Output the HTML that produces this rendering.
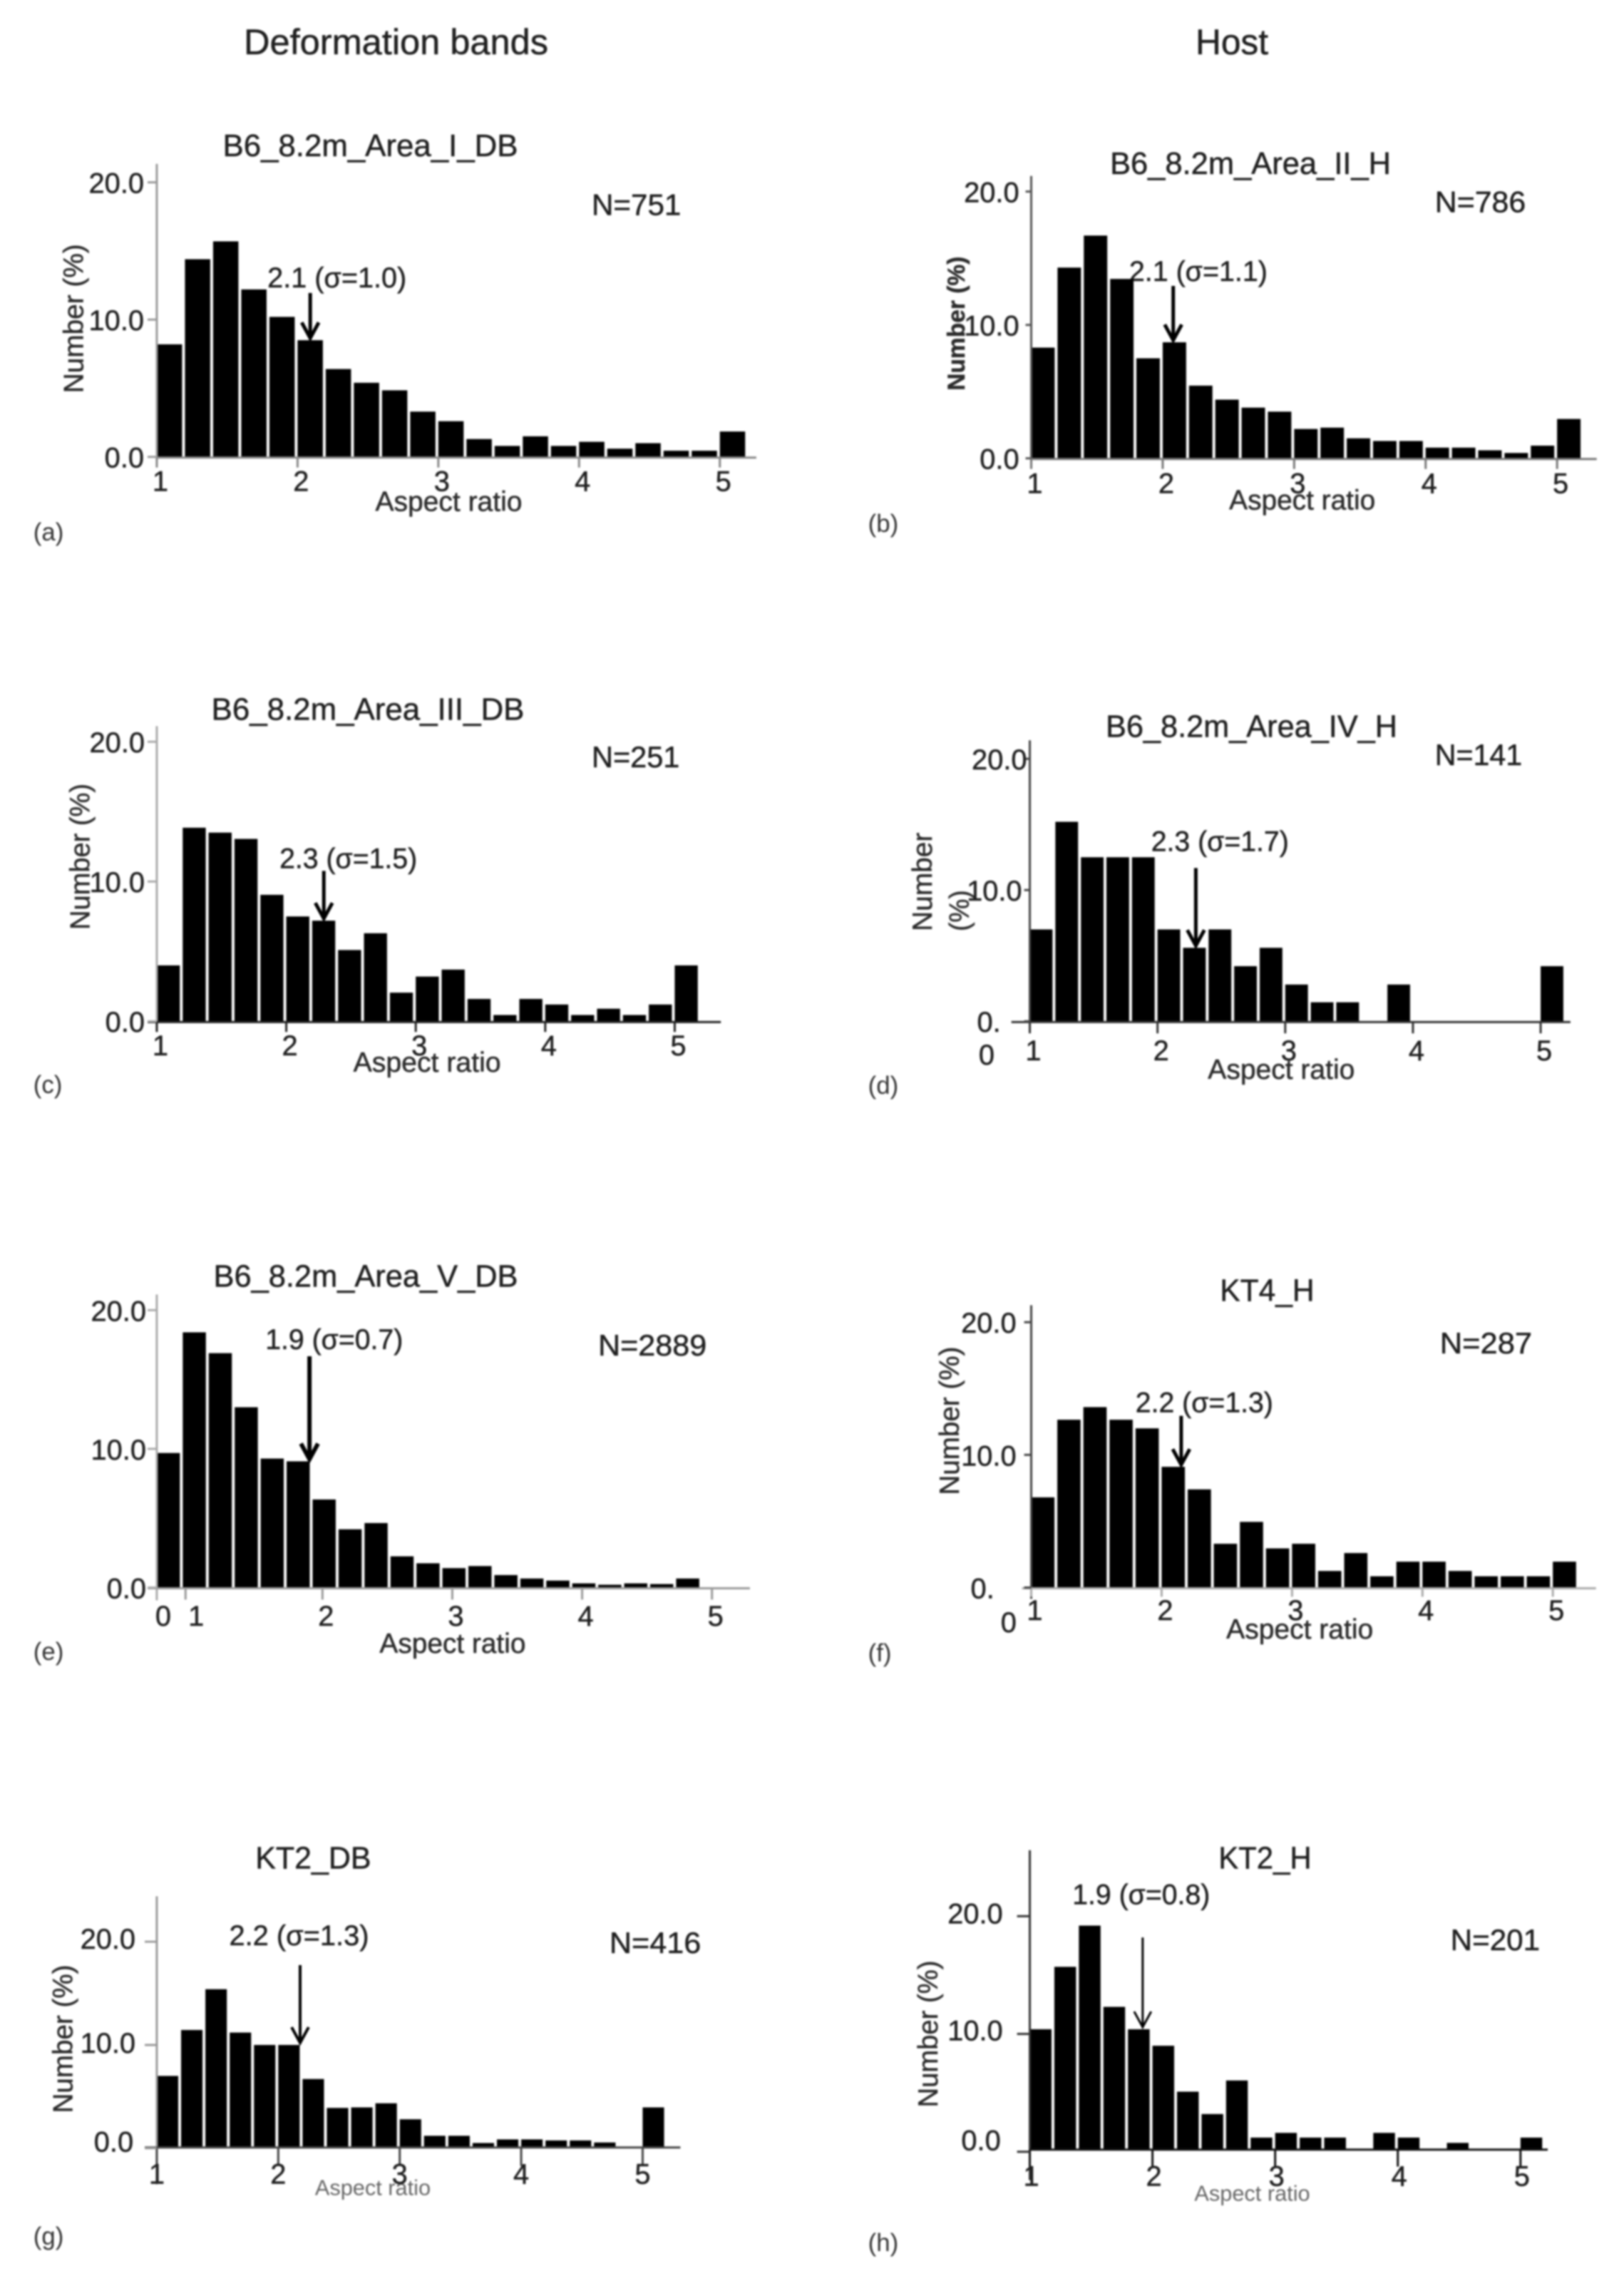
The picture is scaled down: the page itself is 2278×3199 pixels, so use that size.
<!DOCTYPE html>
<html lang="en">
<head>
<meta charset="utf-8">
<title>Aspect ratio histograms: deformation bands and host</title>
<style>
html,body{margin:0;padding:0;background:#fff;}
svg{display:block;filter:blur(1.3px);}
text{font-family:"Liberation Sans",sans-serif;fill:#1f1f1f;stroke:#1f1f1f;stroke-width:0.5px;}
.head{font-size:50px;}
.title{font-size:44px;}
.n{font-size:42px;}
.ann{font-size:40px;}
.tick{font-size:40px;}
.axt{font-size:39px;fill:#2b2b2b;stroke:#2b2b2b;}
.small{font-size:31px;fill:#666;stroke:none;}
.tag{font-size:35px;fill:#333;stroke:none;}
</style>
</head>
<body>
<svg id="figure" xmlns="http://www.w3.org/2000/svg" width="2278" height="3199" viewBox="0 0 2278 3199">
<rect x="0" y="0" width="2278" height="3199" fill="#ffffff"/>
<text class="head" x="342" y="76" textLength="427" lengthAdjust="spacingAndGlyphs">Deformation bands</text>
<text class="head" x="1677" y="76" textLength="102" lengthAdjust="spacingAndGlyphs">Host</text>

<g id="panel-a" transform="scale(0.9952 0.995)">
<text class="title" x="314" y="220" textLength="416" lengthAdjust="spacingAndGlyphs">B6_8.2m_Area_I_DB</text>
<text class="n" x="834" y="303" textLength="126" lengthAdjust="spacingAndGlyphs">N=751</text>
<text class="ann" x="377" y="405" textLength="196" lengthAdjust="spacingAndGlyphs">2.1 (σ=1.0)</text>
<text class="axt" x="529" y="720" textLength="207" lengthAdjust="spacingAndGlyphs">Aspect ratio</text>
<text class="axt" transform="translate(117 449) rotate(-90)" text-anchor="middle" textLength="210" lengthAdjust="spacingAndGlyphs">Number (%)</text>
<text class="tag" x="47" y="762">(a)</text>
</g>

<g id="panel-b" transform="translate(1139 0) scale(0.9952 0.995) translate(-1139 0)">
<text class="title" x="1559" y="245" textLength="396" lengthAdjust="spacingAndGlyphs">B6_8.2m_Area_II_H</text>
<text class="n" x="2017" y="299" textLength="128" lengthAdjust="spacingAndGlyphs">N=786</text>
<text class="ann" x="1586" y="396" textLength="195" lengthAdjust="spacingAndGlyphs">2.1 (σ=1.1)</text>
<text class="axt" x="1727" y="718" textLength="206" lengthAdjust="spacingAndGlyphs">Aspect ratio</text>
<text class="axt" font-weight="bold" transform="translate(1354 456) rotate(-90)" text-anchor="middle" textLength="189" lengthAdjust="spacingAndGlyphs" style="font-size:34px">Number (%)</text>
<text class="tag" x="1218" y="750">(b)</text>
</g>

<g id="panel-c" transform="translate(0 900) scale(0.9952 0.995) translate(0 -900)">
<text class="title" x="298" y="1010" textLength="441" lengthAdjust="spacingAndGlyphs">B6_8.2m_Area_III_DB</text>
<text class="n" x="834" y="1077" textLength="124" lengthAdjust="spacingAndGlyphs">N=251</text>
<text class="ann" x="394" y="1219" textLength="194" lengthAdjust="spacingAndGlyphs">2.3 (σ=1.5)</text>
<text class="axt" x="498" y="1506" textLength="208" lengthAdjust="spacingAndGlyphs">Aspect ratio</text>
<text class="axt" transform="translate(126 1203) rotate(-90)" text-anchor="middle" textLength="206" lengthAdjust="spacingAndGlyphs">Number (%)</text>
<text class="tag" x="47" y="1536">(c)</text>
</g>

<g id="panel-d" transform="translate(1139 900) scale(0.9952 0.995) translate(-1139 -900)">
<text class="title" x="1553" y="1034" textLength="411" lengthAdjust="spacingAndGlyphs">B6_8.2m_Area_IV_H</text>
<text class="n" x="2017" y="1074" textLength="123" lengthAdjust="spacingAndGlyphs">N=141</text>
<text class="ann" x="1617" y="1195" textLength="194" lengthAdjust="spacingAndGlyphs">2.3 (σ=1.7)</text>
<text class="axt" x="1697" y="1516" textLength="207" lengthAdjust="spacingAndGlyphs">Aspect ratio</text>
<text class="axt" transform="translate(1308 1308) rotate(-90)" textLength="139" lengthAdjust="spacingAndGlyphs">Number</text>
<text class="axt" transform="translate(1360 1308) rotate(-90)" textLength="58" lengthAdjust="spacingAndGlyphs">(%)</text>
<text class="tick" x="1374" y="1496">0</text>
<text class="tag" x="1218" y="1537">(d)</text>
</g>

<g id="panel-e" transform="translate(0 1720) scale(0.9952 0.995) translate(0 -1720)">
<text class="title" x="301" y="1805" textLength="429" lengthAdjust="spacingAndGlyphs">B6_8.2m_Area_V_DB</text>
<text class="n" x="843" y="1902" textLength="153" lengthAdjust="spacingAndGlyphs">N=2889</text>
<text class="ann" x="374" y="1893" textLength="194" lengthAdjust="spacingAndGlyphs">1.9 (σ=0.7)</text>
<text class="axt" x="535" y="2321" textLength="206" lengthAdjust="spacingAndGlyphs">Aspect ratio</text>
<text class="tick" x="230" y="2283" text-anchor="middle">0</text>
<text class="tag" x="47" y="2331">(e)</text>
</g>

<g id="panel-f" transform="translate(1139 1720) scale(0.9952 0.995) translate(-1139 -1720)">
<text class="title" x="1714" y="1825" textLength="133" lengthAdjust="spacingAndGlyphs">KT4_H</text>
<text class="n" x="2024" y="1899" textLength="130" lengthAdjust="spacingAndGlyphs">N=287</text>
<text class="ann" x="1595" y="1982" textLength="194" lengthAdjust="spacingAndGlyphs">2.2 (σ=1.3)</text>
<text class="axt" x="1723" y="2301" textLength="207" lengthAdjust="spacingAndGlyphs">Aspect ratio</text>
<text class="axt" transform="translate(1346 1994) rotate(-90)" text-anchor="middle" textLength="209" lengthAdjust="spacingAndGlyphs">Number (%)</text>
<text class="tick" x="1405" y="2292">0</text>
<text class="tag" x="1218" y="2333">(f)</text>
</g>

<g id="panel-g" transform="translate(0 2560) scale(0.9952 0.995) translate(0 -2560)">
<text class="title" x="360" y="2621" textLength="163" lengthAdjust="spacingAndGlyphs">KT2_DB</text>
<text class="n" x="859" y="2740" textLength="129" lengthAdjust="spacingAndGlyphs">N=416</text>
<text class="ann" x="323" y="2729" textLength="197" lengthAdjust="spacingAndGlyphs">2.2 (σ=1.3)</text>
<text class="small" x="444" y="3081" textLength="163" lengthAdjust="spacingAndGlyphs">Aspect ratio</text>
<text class="axt" transform="translate(102 2861) rotate(-90)" text-anchor="middle" textLength="209" lengthAdjust="spacingAndGlyphs">Number (%)</text>
<text class="tag" x="47" y="3151">(g)</text>
</g>

<g id="panel-h" transform="translate(1139 2560) scale(0.9952 0.995) translate(-1139 -2560)">
<text class="title" x="1712" y="2621" textLength="131" lengthAdjust="spacingAndGlyphs">KT2_H</text>
<text class="n" x="2039" y="2736" textLength="126" lengthAdjust="spacingAndGlyphs">N=201</text>
<text class="ann" x="1506" y="2671" textLength="194" lengthAdjust="spacingAndGlyphs">1.9 (σ=0.8)</text>
<text class="small" x="1678" y="3089" textLength="163" lengthAdjust="spacingAndGlyphs">Aspect ratio</text>
<text class="axt" transform="translate(1316 2854) rotate(-90)" text-anchor="middle" textLength="207" lengthAdjust="spacingAndGlyphs">Number (%)</text>
<text class="tag" x="1218" y="3160">(h)</text>
</g>
</svg>

<script>
// Bin percentages (21 bins, 0.2 wide).
var valuesA = [8.2,14.4,15.7,12.2,10.2,8.5,6.4,5.4,4.85,3.3,2.6,1.3,0.8,1.5,0.8,1.1,0.6,1.0,0.45,0.45,1.85];
var valuesB = [8.3,14.3,16.7,13.45,7.5,8.7,5.45,4.4,3.8,3.5,2.2,2.3,1.5,1.3,1.3,0.8,0.8,0.6,0.4,0.95,2.95];
var valuesC = [4.0,13.85,13.5,13.05,9.05,7.5,7.2,5.1,6.3,2.05,3.2,3.7,1.6,0.45,1.6,1.2,0.45,0.9,0.45,1.2,4.0];
var valuesD = [7.0,15.2,12.5,12.5,12.5,7.0,5.6,7.0,4.2,5.6,2.8,1.45,1.45,0,2.8,0,0,0,0,0,4.2];
var valuesE = [9.7,18.4,16.9,13.0,9.3,9.1,6.35,4.2,4.65,2.25,1.75,1.4,1.55,0.9,0.65,0.5,0.3,0.2,0.3,0.25,0.65];
var valuesF = [6.8,12.65,13.6,12.65,12.0,9.1,7.4,3.3,4.95,2.95,3.3,1.25,2.6,0.85,1.95,1.95,1.25,0.85,0.85,0.85,1.95];
var valuesG = [7.0,11.45,15.4,11.2,10.0,10.0,6.7,3.9,3.95,4.35,2.8,1.2,1.2,0.5,0.85,0.85,0.75,0.75,0.55,0.1,3.95];
var valuesH = [10.4,15.7,19.2,12.3,10.4,9.0,5.1,3.2,6.05,1.2,1.6,1.2,1.2,0,1.6,1.2,0,0.75,0,0,1.2];

// Mean aspect ratio marked by each arrow.
var meanA = 2.09;
var meanB = 2.08;
var meanC = 2.29;
var meanD = 2.3;
var meanE = 1.9;
var meanF = 2.15;
var meanG = 2.18;
var meanH = 1.92;

// First bin edge and bin width.
var binStartDefault = 1.0;
var binStartE = 0.724;
var binWidth = 0.2;

// Tick values and labels.
var xTickValues = [1,2,3,4,5];
var xTickLabels = ["1","2","3","4","5"];
var yTickValues = [0,10,20];
var yTickLabels = ["0.0","10.0","20.0"];
var yTickLabelsWrapped = ["0.","10.0","20.0"];

// Plot geometry (separate from the data).
var panelLayouts = [
 {id:'panel-a',values:valuesA,mean:meanA,start:binStartDefault,yLabels:yTickLabels,x1:221,unit:198.4,y0:644,y20:257,axisY:645,axisTop:231,axisBottom:650,axisRight:1066,axisLeft:221,arrowTop:413,yAxisColor:'#999',xAxisColor:'#888',yTick:13,xTick:14,yRight:[203,203,203],labelDy:[15,15,15],xLabelY:692,xLabelOff:5,arrowW:5},
 {id:'panel-b',values:valuesB,mean:meanB,start:binStartDefault,yLabels:yTickLabels,x1:1448,unit:185.3,y0:646,y20:270,axisY:647,axisTop:248,axisBottom:660,axisRight:2245,axisLeft:1448,arrowTop:403,yAxisColor:'#555',xAxisColor:'#777',yTick:8,xTick:14,yRight:[1431,1431,1431],labelDy:[15,15,15],xLabelY:695,xLabelOff:5,arrowW:5},
 {id:'panel-c',values:valuesC,mean:meanC,start:binStartDefault,yLabels:yTickLabels,x1:221,unit:182.5,y0:1435,y20:1041,axisY:1436,axisTop:1019,axisBottom:1450,axisRight:1016,axisLeft:208,arrowTop:1223,yAxisColor:'#aaa',xAxisColor:'#222',yTick:13,xTick:14,yRight:[204,204,204],labelDy:[15,15,15],xLabelY:1483,xLabelOff:5,arrowW:5},
 {id:'panel-d',values:valuesD,mean:meanD,start:binStartDefault,yLabels:yTickLabelsWrapped,x1:1446,unit:180,y0:1435,y20:1065,axisY:1436,axisTop:1039,axisBottom:1450,axisRight:2208,axisLeft:1420,arrowTop:1219,yAxisColor:'#444',xAxisColor:'#333',yTick:8,xTick:16,yRight:[1405,1435,1442],labelDy:[15,15,15],xLabelY:1490,xLabelOff:5,arrowW:5},
 {id:'panel-e',values:valuesE,mean:meanE,start:binStartE,yLabels:yTickLabels,x1:271.5,unit:183,y0:2229,y20:1838,axisY:2230,axisTop:1816,axisBottom:2247,axisRight:1057,axisLeft:208,arrowTop:1903,yAxisColor:'#aaa',xAxisColor:'#999',yTick:13,xTick:16,yRight:[206,206,206],labelDy:[15,15,15],xLabelY:2283,xLabelOff:5,arrowW:6,firstTickNudge:-10},
 {id:'panel-f',values:valuesF,mean:meanF,start:binStartDefault,yLabels:yTickLabelsWrapped,x1:1448,unit:183.8,y0:2229,y20:1855,axisY:2230,axisTop:1831,axisBottom:2245,axisRight:2244,axisLeft:1435,arrowTop:1987,yAxisColor:'#444',xAxisColor:'#aaa',yTick:10,xTick:12,yRight:[1396,1427,1427],labelDy:[15,15,15],xLabelY:2275,xLabelOff:5,arrowW:5},
 {id:'panel-g',values:valuesG,mean:meanG,start:binStartDefault,yLabels:yTickLabels,x1:221,unit:171.2,y0:3015,y20:2724,axisY:3014,axisTop:2660,axisBottom:3066,axisRight:959,axisLeft:204,arrowTop:2757,yAxisColor:'#999',xAxisColor:'#444',yTick:17,xTick:26,yRight:[188,191,191],labelDy:[5,11,10],xLabelY:3065,xLabelOff:0,arrowW:4},
 {id:'panel-h',values:valuesH,mean:meanH,start:binStartDefault,yLabels:yTickLabels,x1:1446,unit:172.9,y0:3020,y20:2688,axisY:3017,axisTop:2595,axisBottom:3060,axisRight:2176,axisLeft:1446,arrowTop:2718,yAxisColor:'#333',xAxisColor:'#111',yTick:18,xTick:24,yRight:[1405,1408,1408],labelDy:[-2,9,10],xLabelY:3068,xLabelOff:2,arrowW:3}
];

var SVG_NS = 'http://www.w3.org/2000/svg';

function make(tag, attrs, parent) {
  var node = document.createElementNS(SVG_NS, tag);
  for (var key in attrs) { node.setAttribute(key, attrs[key]); }
  parent.appendChild(node);
  return node;
}

function xScaleFor(p) {
  return function (v) { return p.x1 + (v - 1) * p.unit; };
}

function yScaleFor(p) {
  var perUnit = (p.y0 - p.y20) / 20;
  return function (v) { return p.y0 - v * perUnit; };
}

function drawPanel(p) {
  var root = document.getElementById(p.id);
  var x = xScaleFor(p);
  var y = yScaleFor(p);
  var barGap = 4;
  var el, i;

  for (i = 0; i < p.values.length; i++) {
    if (p.values[i] <= 0) { continue; }
    var left = x(p.start + i * binWidth);
    var right = x(p.start + (i + 1) * binWidth);
    el = make('rect', {x: left, y: y(p.values[i]), width: right - left - barGap, height: p.axisY - y(p.values[i]), fill: '#000'}, root);
    
    
  }

  el = make('line', {x1: x(p.start), y1: p.axisTop, x2: x(p.start), y2: p.axisBottom, stroke: p.yAxisColor, 'stroke-width': 3}, root);
  
  

  el = make('line', {x1: p.axisLeft, y1: p.axisY, x2: p.axisRight, y2: p.axisY, stroke: p.xAxisColor, 'stroke-width': 3}, root);
  
  

  for (i = 0; i < xTickValues.length; i++) {
    var tickX = x(xTickValues[i]) + (i === 0 && p.firstTickNudge ? p.firstTickNudge : 0);
    el = make('line', {x1: tickX, y1: p.axisY, x2: tickX, y2: p.axisY + p.xTick, stroke: p.xAxisColor, 'stroke-width': 3}, root);
    
    

    el = make('text', {x: x(xTickValues[i]) + p.xLabelOff, y: p.xLabelY, 'class': 'tick', 'text-anchor': 'middle'}, root);
    
    
    el.textContent = xTickLabels[i];
  }

  for (i = 0; i < yTickValues.length; i++) {
    el = make('line', {x1: x(p.start) - p.yTick, y1: y(yTickValues[i]), x2: x(p.start), y2: y(yTickValues[i]), stroke: p.yAxisColor, 'stroke-width': 3}, root);
    
    

    el = make('text', {x: p.yRight[i], y: y(yTickValues[i]) + p.labelDy[i], 'class': 'tick', 'text-anchor': 'end'}, root);
    
    
    el.textContent = p.yLabels[i];
  }

  var bin = Math.floor((p.mean - p.start) / binWidth);
  var tipY = y(p.values[bin]);
  var tipX = x(p.mean);

  el = make('line', {x1: tipX, y1: p.arrowTop, x2: tipX, y2: tipY - 2, stroke: '#000', 'stroke-width': p.arrowW}, root);
  
  

  var head = (tipX - 12) + ',' + (tipY - 25) + ' ' + tipX + ',' + (tipY - 3) + ' ' + (tipX + 12) + ',' + (tipY - 25);
  el = make('polyline', {points: head, fill: 'none', stroke: '#000', 'stroke-width': p.arrowW}, root);
  
  
}

panelLayouts.forEach(drawPanel);
</script>
</body>
</html>
